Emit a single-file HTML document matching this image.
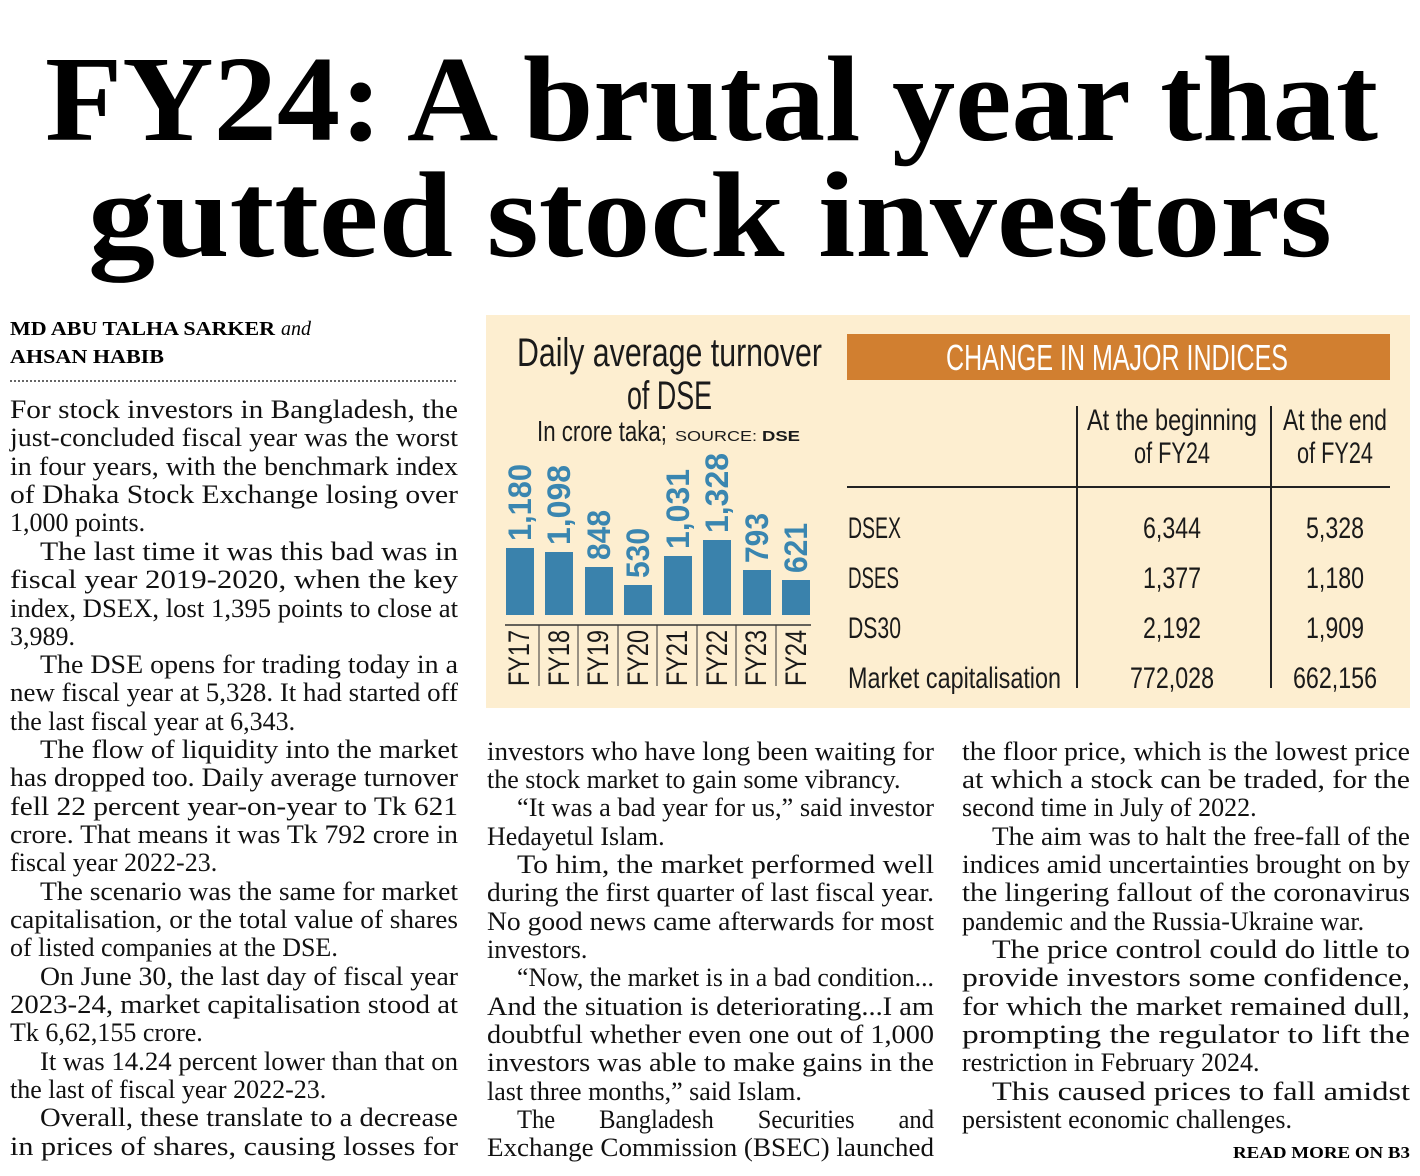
<!DOCTYPE html>
<html><head><meta charset="utf-8"><style>
html,body{margin:0;padding:0;background:#fff;}
svg{display:block;}
.h{font-family:"Liberation Serif",serif;font-weight:bold;font-size:122px;fill:#000;}
.b{font-family:"Liberation Serif",serif;font-size:26px;fill:#111;}
.c{font-family:"Liberation Sans Narrow","Liberation Sans",sans-serif;fill:#1a1a1a;}
</style></head><body>
<svg width="1420" height="1176" viewBox="0 0 1420 1176" xmlns="http://www.w3.org/2000/svg">
<rect width="1420" height="1176" fill="#fff"/>
<text class="h" x="45" y="140" textLength="1333" lengthAdjust="spacingAndGlyphs">FY24: A brutal year that</text>
<text class="h" x="88" y="256" textLength="1244" lengthAdjust="spacingAndGlyphs">gutted stock investors</text>

<text x="10" y="335" style="font-family:'Liberation Serif',serif;font-weight:bold;font-size:20px" textLength="265" lengthAdjust="spacingAndGlyphs">MD ABU TALHA SARKER</text>
<text x="281" y="335" style="font-family:'Liberation Serif',serif;font-style:italic;font-size:20px">and</text>
<text x="10" y="363" style="font-family:'Liberation Serif',serif;font-weight:bold;font-size:20px" textLength="154" lengthAdjust="spacingAndGlyphs">AHSAN HABIB</text>
<line x1="10" y1="381" x2="458" y2="381" stroke="#333" stroke-width="1.5" stroke-dasharray="2,2"/>

<g class="b">
<text x="10" y="418" textLength="448" lengthAdjust="spacingAndGlyphs">For stock investors in Bangladesh, the</text>
<text x="10" y="446" textLength="448" lengthAdjust="spacingAndGlyphs">just-concluded fiscal year was the worst</text>
<text x="10" y="475" textLength="448" lengthAdjust="spacingAndGlyphs">in four years, with the benchmark index</text>
<text x="10" y="503" textLength="448" lengthAdjust="spacingAndGlyphs">of Dhaka Stock Exchange losing over</text>
<text x="10" y="531">1,000 points.</text>
<text x="40" y="560" textLength="418" lengthAdjust="spacingAndGlyphs">The last time it was this bad was in</text>
<text x="10" y="588" textLength="448" lengthAdjust="spacingAndGlyphs">fiscal year 2019-2020, when the key</text>
<text x="10" y="617" textLength="448" lengthAdjust="spacingAndGlyphs">index, DSEX, lost 1,395 points to close at</text>
<text x="10" y="645">3,989.</text>
<text x="40" y="673" textLength="418" lengthAdjust="spacingAndGlyphs">The DSE opens for trading today in a</text>
<text x="10" y="701" textLength="448" lengthAdjust="spacingAndGlyphs">new fiscal year at 5,328. It had started off</text>
<text x="10" y="730">the last fiscal year at 6,343.</text>
<text x="40" y="758" textLength="418" lengthAdjust="spacingAndGlyphs">The flow of liquidity into the market</text>
<text x="10" y="786" textLength="448" lengthAdjust="spacingAndGlyphs">has dropped too. Daily average turnover</text>
<text x="10" y="815" textLength="448" lengthAdjust="spacingAndGlyphs">fell 22 percent year-on-year to Tk 621</text>
<text x="10" y="843" textLength="448" lengthAdjust="spacingAndGlyphs">crore. That means it was Tk 792 crore in</text>
<text x="10" y="871">fiscal year 2022-23.</text>
<text x="40" y="900" textLength="418" lengthAdjust="spacingAndGlyphs">The scenario was the same for market</text>
<text x="10" y="928" textLength="448" lengthAdjust="spacingAndGlyphs">capitalisation, or the total value of shares</text>
<text x="10" y="956">of listed companies at the DSE.</text>
<text x="40" y="985" textLength="418" lengthAdjust="spacingAndGlyphs">On June 30, the last day of fiscal year</text>
<text x="10" y="1013" textLength="448" lengthAdjust="spacingAndGlyphs">2023-24, market capitalisation stood at</text>
<text x="10" y="1041">Tk 6,62,155 crore.</text>
<text x="40" y="1070" textLength="418" lengthAdjust="spacingAndGlyphs">It was 14.24 percent lower than that on</text>
<text x="10" y="1098">the last of fiscal year 2022-23.</text>
<text x="40" y="1126" textLength="418" lengthAdjust="spacingAndGlyphs">Overall, these translate to a decrease</text>
<text x="10" y="1155" textLength="448" lengthAdjust="spacingAndGlyphs">in prices of shares, causing losses for</text>

<text x="487" y="760" textLength="447" lengthAdjust="spacingAndGlyphs">investors who have long been waiting for</text>
<text x="487" y="788">the stock market to gain some vibrancy.</text>
<text x="517" y="816" textLength="417" lengthAdjust="spacingAndGlyphs">“It was a bad year for us,” said investor</text>
<text x="487" y="845">Hedayetul Islam.</text>
<text x="517" y="873" textLength="417" lengthAdjust="spacingAndGlyphs">To him, the market performed well</text>
<text x="487" y="901" textLength="447" lengthAdjust="spacingAndGlyphs">during the first quarter of last fiscal year.</text>
<text x="487" y="930" textLength="447" lengthAdjust="spacingAndGlyphs">No good news came afterwards for most</text>
<text x="487" y="958">investors.</text>
<text x="517" y="986" textLength="417" lengthAdjust="spacingAndGlyphs">“Now, the market is in a bad condition...</text>
<text x="487" y="1015" textLength="447" lengthAdjust="spacingAndGlyphs">And the situation is deteriorating...I am</text>
<text x="487" y="1043" textLength="447" lengthAdjust="spacingAndGlyphs">doubtful whether even one out of 1,000</text>
<text x="487" y="1071" textLength="447" lengthAdjust="spacingAndGlyphs">investors was able to make gains in the</text>
<text x="487" y="1100">last three months,” said Islam.</text>
<text x="517" y="1128" textLength="417" lengthAdjust="spacingAndGlyphs" word-spacing="40">The Bangladesh Securities and</text>
<text x="487" y="1156" textLength="447" lengthAdjust="spacingAndGlyphs">Exchange Commission (BSEC) launched</text>

<text x="962" y="760" textLength="448" lengthAdjust="spacingAndGlyphs">the floor price, which is the lowest price</text>
<text x="962" y="788" textLength="448" lengthAdjust="spacingAndGlyphs">at which a stock can be traded, for the</text>
<text x="962" y="816">second time in July of 2022.</text>
<text x="992" y="845" textLength="418" lengthAdjust="spacingAndGlyphs">The aim was to halt the free-fall of the</text>
<text x="962" y="873" textLength="448" lengthAdjust="spacingAndGlyphs">indices amid uncertainties brought on by</text>
<text x="962" y="901" textLength="448" lengthAdjust="spacingAndGlyphs">the lingering fallout of the coronavirus</text>
<text x="962" y="930">pandemic and the Russia-Ukraine war.</text>
<text x="992" y="958" textLength="418" lengthAdjust="spacingAndGlyphs">The price control could do little to</text>
<text x="962" y="986" textLength="448" lengthAdjust="spacingAndGlyphs">provide investors some confidence,</text>
<text x="962" y="1015" textLength="448" lengthAdjust="spacingAndGlyphs">for which the market remained dull,</text>
<text x="962" y="1043" textLength="448" lengthAdjust="spacingAndGlyphs">prompting the regulator to lift the</text>
<text x="962" y="1071">restriction in February 2024.</text>
<text x="992" y="1100" textLength="418" lengthAdjust="spacingAndGlyphs">This caused prices to fall amidst</text>
<text x="962" y="1128">persistent economic challenges.</text>
</g>
<text x="1410" y="1158" text-anchor="end" style="font-family:'Liberation Serif',serif;font-weight:bold;font-size:17px" textLength="177" lengthAdjust="spacingAndGlyphs">READ MORE ON B3</text>

<!-- infographic -->
<rect x="486" y="315" width="924" height="393" fill="#fdeed0"/>
<g class="c">
<text x="517" y="366" font-size="40" textLength="305" lengthAdjust="spacingAndGlyphs">Daily average turnover</text>
<text x="627" y="409" font-size="40" textLength="85" lengthAdjust="spacingAndGlyphs">of DSE</text>
<text x="537" y="441" font-size="29" textLength="130" lengthAdjust="spacingAndGlyphs">In crore taka;</text>
</g>
<text x="675" y="441" style="font-family:'Liberation Sans',sans-serif;font-size:15px;fill:#1a1a1a" textLength="82" lengthAdjust="spacingAndGlyphs">SOURCE:</text>
<text x="762" y="441" style="font-family:'Liberation Sans',sans-serif;font-size:15px;font-weight:bold;fill:#1a1a1a" textLength="38" lengthAdjust="spacingAndGlyphs">DSE</text>

<g fill="#3a82ac">
<rect x="506" y="548" width="28" height="67"/>
<rect x="545" y="552" width="28" height="63"/>
<rect x="585" y="567" width="28" height="48"/>
<rect x="624" y="585" width="28" height="30"/>
<rect x="664" y="556" width="28" height="59"/>
<rect x="703" y="540" width="28" height="75"/>
<rect x="743" y="570" width="28" height="45"/>
<rect x="782" y="580" width="28" height="35"/>
</g>
<g style="font-family:'Liberation Sans Narrow','Liberation Sans',sans-serif;font-weight:bold;font-size:32px;fill:#3a86b0">
<text transform="translate(531,541) rotate(-90)" textLength="77" lengthAdjust="spacingAndGlyphs">1,180</text>
<text transform="translate(570,545) rotate(-90)" textLength="80" lengthAdjust="spacingAndGlyphs">1,098</text>
<text transform="translate(610,560) rotate(-90)" textLength="50" lengthAdjust="spacingAndGlyphs">848</text>
<text transform="translate(649,578) rotate(-90)" textLength="50" lengthAdjust="spacingAndGlyphs">530</text>
<text transform="translate(689,549) rotate(-90)" textLength="80" lengthAdjust="spacingAndGlyphs">1,031</text>
<text transform="translate(728,533) rotate(-90)" textLength="80" lengthAdjust="spacingAndGlyphs">1,328</text>
<text transform="translate(768,563) rotate(-90)" textLength="50" lengthAdjust="spacingAndGlyphs">793</text>
<text transform="translate(807,573) rotate(-90)" textLength="50" lengthAdjust="spacingAndGlyphs">621</text>
</g>
<line x1="505" y1="625" x2="811" y2="625" stroke="#333" stroke-width="1.5"/>
<g stroke="#333" stroke-width="1">
<line x1="539" y1="625" x2="539" y2="686"/><line x1="578" y1="625" x2="578" y2="686"/>
<line x1="618" y1="625" x2="618" y2="686"/><line x1="657" y1="625" x2="657" y2="686"/>
<line x1="697" y1="625" x2="697" y2="686"/><line x1="736" y1="625" x2="736" y2="686"/>
<line x1="776" y1="625" x2="776" y2="686"/>
</g>
<g class="c" font-size="30">
<text transform="translate(529,686) rotate(-90)" textLength="56" lengthAdjust="spacingAndGlyphs">FY17</text>
<text transform="translate(569,686) rotate(-90)" textLength="56" lengthAdjust="spacingAndGlyphs">FY18</text>
<text transform="translate(608,686) rotate(-90)" textLength="56" lengthAdjust="spacingAndGlyphs">FY19</text>
<text transform="translate(648,686) rotate(-90)" textLength="56" lengthAdjust="spacingAndGlyphs">FY20</text>
<text transform="translate(687,686) rotate(-90)" textLength="56" lengthAdjust="spacingAndGlyphs">FY21</text>
<text transform="translate(727,686) rotate(-90)" textLength="56" lengthAdjust="spacingAndGlyphs">FY22</text>
<text transform="translate(766,686) rotate(-90)" textLength="56" lengthAdjust="spacingAndGlyphs">FY23</text>
<text transform="translate(806,686) rotate(-90)" textLength="56" lengthAdjust="spacingAndGlyphs">FY24</text>
</g>

<rect x="847" y="334" width="543" height="46" fill="#d17f30"/>
<text x="946" y="370" style="font-family:'Liberation Sans Narrow','Liberation Sans',sans-serif;font-size:36px;fill:#fff" textLength="342" lengthAdjust="spacingAndGlyphs">CHANGE IN MAJOR INDICES</text>
<g stroke="#222" stroke-width="2">
<line x1="1077" y1="406" x2="1077" y2="688"/>
<line x1="1271" y1="406" x2="1271" y2="688"/>
<line x1="847" y1="487" x2="1390" y2="487"/>
</g>
<g class="c" font-size="30">
<text x="1087" y="430" textLength="170" lengthAdjust="spacingAndGlyphs">At the beginning</text>
<text x="1134" y="463" textLength="76" lengthAdjust="spacingAndGlyphs">of FY24</text>
<text x="1283" y="430" textLength="104" lengthAdjust="spacingAndGlyphs">At the end</text>
<text x="1297" y="463" textLength="76" lengthAdjust="spacingAndGlyphs">of FY24</text>
<text x="848" y="538" textLength="53" lengthAdjust="spacingAndGlyphs">DSEX</text>
<text x="848" y="588" textLength="51" lengthAdjust="spacingAndGlyphs">DSES</text>
<text x="848" y="638" textLength="53" lengthAdjust="spacingAndGlyphs">DS30</text>
<text x="848" y="688" textLength="213" lengthAdjust="spacingAndGlyphs">Market capitalisation</text>
<text x="1143" y="538" textLength="58" lengthAdjust="spacingAndGlyphs">6,344</text><text x="1306" y="538" textLength="58" lengthAdjust="spacingAndGlyphs">5,328</text>
<text x="1143" y="588" textLength="58" lengthAdjust="spacingAndGlyphs">1,377</text><text x="1306" y="588" textLength="58" lengthAdjust="spacingAndGlyphs">1,180</text>
<text x="1143" y="638" textLength="58" lengthAdjust="spacingAndGlyphs">2,192</text><text x="1306" y="638" textLength="58" lengthAdjust="spacingAndGlyphs">1,909</text>
<text x="1130" y="688" textLength="84" lengthAdjust="spacingAndGlyphs">772,028</text><text x="1293" y="688" textLength="84" lengthAdjust="spacingAndGlyphs">662,156</text>
</g>
</svg>
</body></html>
